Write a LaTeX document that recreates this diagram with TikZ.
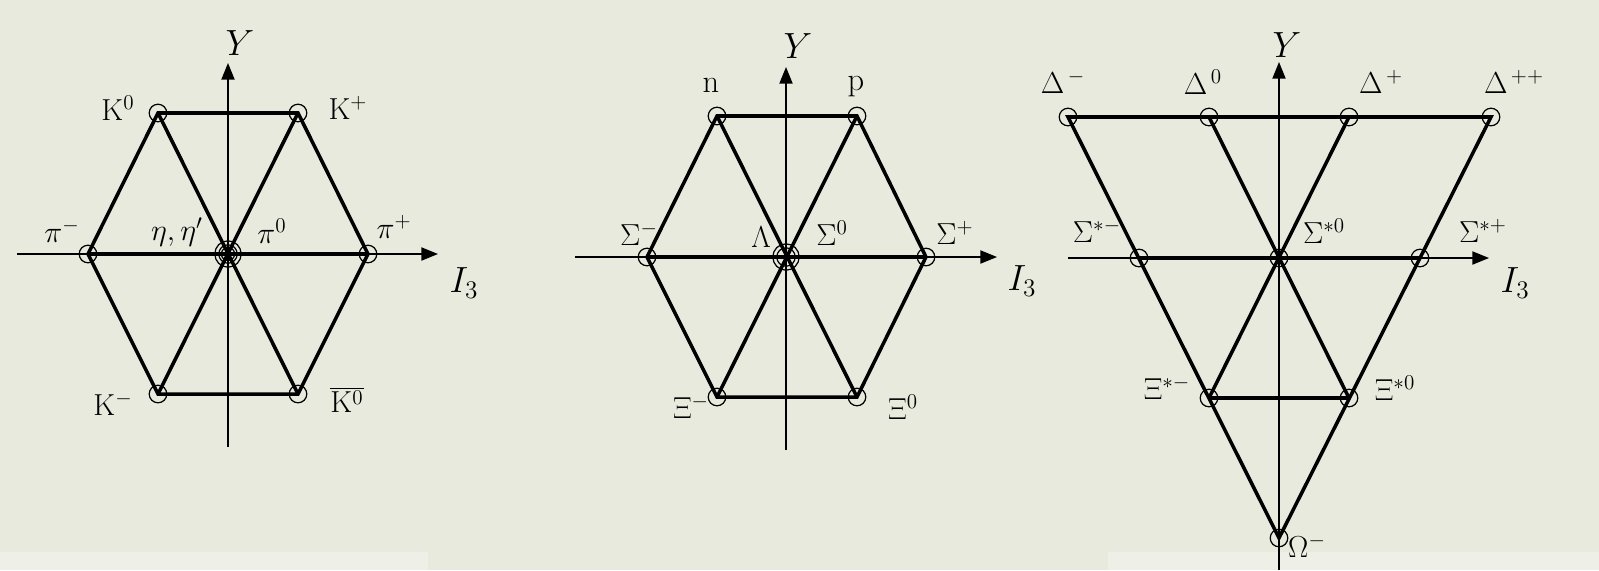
\documentclass[tikz,border=0pt]{standalone}
\usetikzlibrary{arrows.meta}
\definecolor{paper}{RGB}{232,234,222}
\definecolor{paperlight}{RGB}{238,239,230}

\begin{document}
\begin{tikzpicture}[x=0.02cm,y=-0.02cm,
  state/.style={circle,draw,line width=0.7pt,minimum size=10pt,inner sep=0pt},
  ring/.style={circle,draw,line width=0.7pt,inner sep=0pt},
  edge/.style={line width=2pt},
  axis/.style={line width=0.85pt,-{Triangle[length=9.5pt,width=7.5pt]}},
  lbl/.style={font=\fontsize{18.5}{22}\selectfont,inner sep=0pt},
  axlbl/.style={font=\fontsize{20}{24}\selectfont,inner sep=0pt}]
\fill[paper] (0,0) rectangle (1599,570);
\fill[paperlight] (0,552) rectangle (428,570);
\fill[paperlight] (1108,552) rectangle (1599,570);

% mesons
\coordinate (xa1) at (17,254);
\coordinate (xb1) at (438,254);
\coordinate (ya1) at (228,447);
\coordinate (yb1) at (228,63);
\draw[axis] (xa1) -- (xb1);
\draw[axis] (ya1) -- (yb1);
\node[state] (Kz) at (158,113) {};
\node[state] (Kp) at (298,113) {};
\node[state] (pim) at (88,254) {};
\node[state] (pip) at (368,254) {};
\node[state] (Km) at (158,394) {};
\node[state] (Kzb) at (298,394) {};
\node[ring,minimum size=7.5pt] (piz) at (228,254) {};
\node[ring,minimum size=10.5pt] (eta) at (228,254) {};
\node[ring,minimum size=15pt] (etap) at (228,254) {};
\draw[edge] (Kz.center) -- (Kp.center) -- (pip.center) -- (Kzb.center)
  -- (Km.center) -- (pim.center) -- cycle;
\draw[edge] (pim.center) -- (pip.center);
\draw[edge] (Kz.center) -- (Kzb.center);
\draw[edge] (Kp.center) -- (Km.center);
\node[axlbl] (Y1) at (240,43) {$Y$};
\node[axlbl] (I1) at (464,283) {$I_3$};
\node[lbl] (lKz) at (118,108) {$\mathrm{K}^0$};
\node[lbl] (lKp) at (348,108) {$\mathrm{K}^+$};
\node[lbl] (lpim) at (62,231) {$\pi^-$};
\node[lbl] (leta) at (177,232) {$\eta,\eta'$};
\node[lbl] (lpiz) at (272,231) {$\pi^0$};
\node[lbl] (lpip) at (394,227) {$\pi^+$};
\node[lbl] (lKm) at (113,404) {$\mathrm{K}^-$};
\node[lbl] (lKzb) at (347,400) {$\overline{\mathrm{K}^0}$};

% baryon octet
\coordinate (xa2) at (575,257);
\coordinate (xb2) at (997,257);
\coordinate (ya2) at (786,450);
\coordinate (yb2) at (786,67);
\draw[axis] (xa2) -- (xb2);
\draw[axis] (ya2) -- (yb2);
\node[state] (n) at (717,116) {};
\node[state] (p) at (857,116) {};
\node[state] (Sm) at (647,257) {};
\node[state] (Sp) at (926,257) {};
\node[state] (Xm) at (717,397) {};
\node[state] (Xz) at (857,397) {};
\node[ring,minimum size=10.5pt] (Lam) at (786,257) {};
\node[ring,minimum size=15pt] (Sz) at (786,257) {};
\draw[edge] (n.center) -- (p.center) -- (Sp.center) -- (Xz.center)
  -- (Xm.center) -- (Sm.center) -- cycle;
\draw[edge] (Sm.center) -- (Sp.center);
\draw[edge] (n.center) -- (Xz.center);
\draw[edge] (p.center) -- (Xm.center);
\node[axlbl] (Y2) at (798,46) {$Y$};
\node[axlbl] (I2) at (1022,281) {$I_3$};
\node[lbl] (ln) at (711,85) {n};
\node[lbl] (lp) at (856,87) {p};
\node[lbl] (lSm) at (639,234) {$\Sigma^-$};
\node[lbl] (lLam) at (761,237) {$\Lambda$};
\node[lbl] (lSz) at (832,233) {$\Sigma^0$};
\node[lbl] (lSp) at (955,233) {$\Sigma^+$};
\node[lbl] (lXm) at (691,407) {$\Xi^-$};
\node[lbl] (lXz) at (903,407) {$\Xi^0$};

% baryon decuplet
\coordinate (xa3) at (1068,258);
\coordinate (xb3) at (1489,258);
\coordinate (ya3) at (1279,570);
\coordinate (yb3) at (1279,62);
\draw[axis] (xa3) -- (xb3);
\draw[axis] (ya3) -- (yb3);
\node[state] (Dm) at (1068,117) {};
\node[state] (Dz) at (1209,117) {};
\node[state] (Dp) at (1349,117) {};
\node[state] (Dpp) at (1491,117) {};
\node[state] (Ssm) at (1139,258) {};
\node[state] (Ssz) at (1279,258) {};
\node[state] (Ssp) at (1420,258) {};
\node[state] (Xsm) at (1209,398) {};
\node[state] (Xsz) at (1349,398) {};
\node[state] (Om) at (1279,538) {};
\draw[edge] (Dm.center) -- (Dpp.center) -- (Om.center) -- cycle;
\draw[edge] (Ssm.center) -- (Ssp.center);
\draw[edge] (Xsm.center) -- (Xsz.center);
\draw[edge] (Dz.center) -- (Xsz.center);
\draw[edge] (Dp.center) -- (Xsm.center);
\node[axlbl] (Y3) at (1287,45) {$Y$};
\node[axlbl] (I3) at (1515,283) {$I_3$};
\node[lbl] (lDm) at (1063,82) {$\Delta^{\,-}$};
\node[lbl] (lDz) at (1203,82) {$\Delta^{\,0}$};
\node[lbl] (lDp) at (1381,82) {$\Delta^{\,+}$};
\node[lbl] (lDpp) at (1514,82) {$\Delta^{\,++}$};
\node[lbl] (lSsm) at (1097,231) {$\Sigma^{*-}$};
\node[lbl] (lSsz) at (1324,231) {$\Sigma^{*0}$};
\node[lbl] (lSsp) at (1483,231) {$\Sigma^{*+}$};
\node[lbl] (lXsm) at (1167,388) {$\Xi^{*-}$};
\node[lbl] (lXsz) at (1395,388) {$\Xi^{*0}$};
\node[lbl] (lOm) at (1307,546) {$\Omega^-$};
\end{tikzpicture}
\end{document}
